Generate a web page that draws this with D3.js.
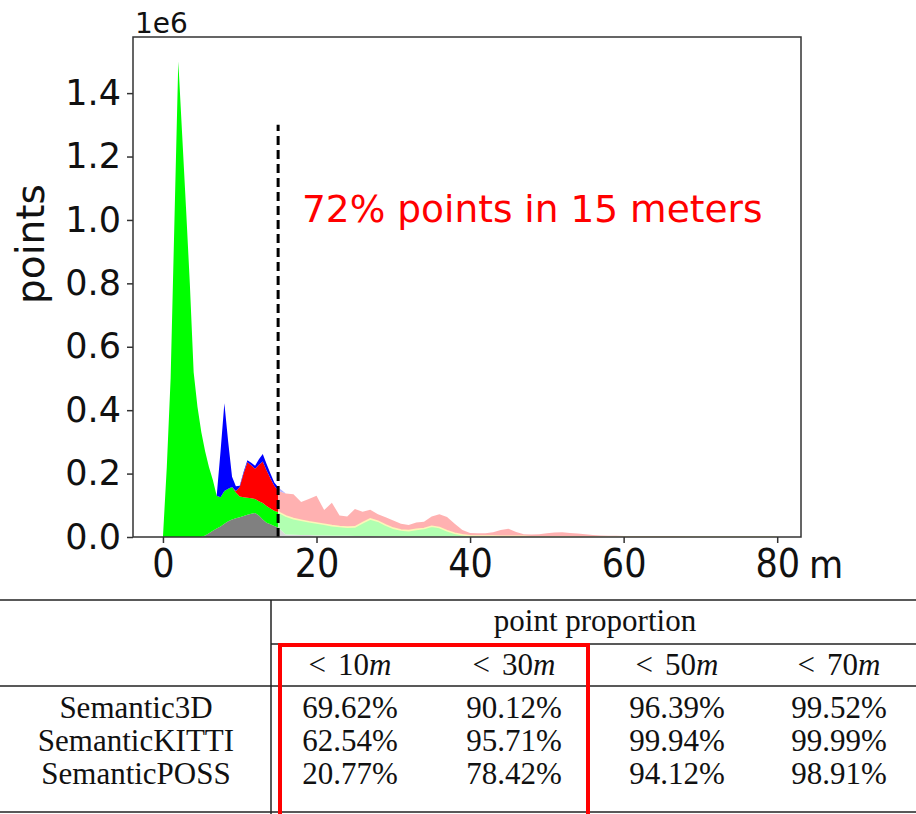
<!DOCTYPE html>
<html>
<head>
<meta charset="utf-8">
<script src="https://cdn.jsdelivr.net/npm/d3@7"></script>
<style>
  body { margin: 0; background: #fff; }
  svg { display: block; }
</style>
</head>
<body>
<svg id="chart"></svg>
<script>
// distance bins (m): 0.5 m steps up to 15 m, then 1 m steps
var distance = [0,0.5,1,1.5,2,2.5,3,3.5,4,4.5,5,5.5,6,6.5,7,7.5,8,8.5,9,9.5,10,10.5,11,11.5,12,12.5,13,13.5,14,14.5,15,
  16,17,18,19,20,21,22,23,24,25,26,27,28,29,30,31,32,33,34,35,36,37,38,39,40,41,42,43,44,45,46,47,48,49,50,
  51,52,53,54,55,56,57,58,59,60,61,62,63,64,65,66,67,68,69,70,71,72,73,74,75,76,77,78,79,80];

// layer values, in 1e6 points
var grayPts = [0,0,0,0,0,0,0,0,0,0,0,.005,.012,.02,.027,.033,.042,.05,.055,.059,.062,.066,.07,.073,.076,.068,.055,.045,.04,.035,.03,
  .008,.007,.006,.006,.005,.005,.004,.004,.004,.003,.003,.003,.002,.002,.002,
  .001,.001,.001,.001,.001,.001,.001,.001,.001,
  0,0,0,0,0,0,0,0,0,0,0,0,0,0,0,0,0,0,0,0,0,0,0,0,0,0,0,0,0,0,0,0,0,0,0,0,0,0,0,0,0];
var greenPts = [0,.22,.5,1.0,1.5,1.27,1.04,.8,.52,.41,.33,.265,.208,.16,.103,.092,.103,.102,.103,.081,.066,.059,.054,.049,.044,.045,.052,.053,.05,.048,.049,
  .058,.051,.047,.042,.039,.035,.032,.029,.027,.029,.042,.054,.048,.036,.026,
  .021,.019,.023,.026,.033,.029,.019,.011,.006,
  .004,.003,.003,.003,.002,.002,.002,.002,.001,.001,.001,.001,.001,.001,
  0,0,0,0,0,0,0,0,0,0,0,0,0,0,0,0,0,0,0,0,0,0,0,0,0,0,0];
var redPts = [0,0,0,0,0,0,0,0,0,0,0,0,0,0,0,0,0,0,0,.005,.03,.075,.112,.104,.095,.115,.131,.112,.095,.079,.067,
  .071,.077,.057,.072,.086,.045,.072,.035,.034,.056,.035,.029,.022,.024,.024,
  .02,.018,.022,.021,.031,.042,.043,.03,.015,
  .009,.009,.009,.012,.02,.024,.014,.007,.007,.008,.011,.013,.014,.012,
  .011,.009,.006,.005,.004,.004,.003,.003,.003,.003,.003,.003,.003,.002,.001,
  0,0,0,0,0,0,0,0,0,0,0,0];
var bluePts = [0,0,0,0,0,0,0,0,0,0,0,0,0,0,0,.145,.277,.148,.032,.015,.004,.005,.006,.008,.01,.017,.024,.02,.015,.01,.011,
  0,0,0,0,0,0,0,0,0,0,0,0,0,0,0,0,0,0,0,0,0,0,0,0,0,0,0,0,0,0,0,0,0,0,0,
  0,0,0,0,0,0,0,0,0,0,0,0,0,0,0,0,0,0,0,0,0,0,0,0,0,0,0,0,0,0];

var layerKeys = ["gray", "green", "red", "blue"];
var layerColors = {gray: "#808080", green: "#00ff00", red: "#ff0000", blue: "#0000ff"};

var xTicks = [0, 20, 40, 60, 80];
var yTicks = [0, 0.2, 0.4, 0.6, 0.8, 1.0, 1.2, 1.4];
var cutoff = 15;
var note = "72% points in 15 meters";

// table
var headerTitle = "point proportion";
var ranges = ["10", "30", "50", "70"];
var datasets = ["Semantic3D", "SemanticKITTI", "SemanticPOSS"];
var proportions = [
  ["69.62%", "90.12%", "96.39%", "99.52%"],
  ["62.54%", "95.71%", "99.94%", "99.99%"],
  ["20.77%", "78.42%", "94.12%", "98.91%"]
];

var W = 916, H = 814;
var svg = d3.select("#chart").attr("width", W).attr("height", H);

var plot = {left: 133, right: 801, top: 37, bottom: 537};

var x = d3.scaleLinear().domain([-3.9, 83.1]).range([plot.left, plot.right]);
var y = d3.scaleLinear().domain([0, 1.577]).range([plot.bottom, plot.top]);

var rows = distance.map(function(d, i) {
  return {m: d, gray: grayPts[i], green: greenPts[i], red: redPts[i], blue: bluePts[i]};
});
var stacked = d3.stack().keys(layerKeys)(rows);

var area = d3.area()
  .x(function(d) { return x(d.data.m); })
  .y0(function(d) { return y(d[0]); })
  .y1(function(d) { return y(d[1]); });

var defs = svg.append("defs");
defs.append("clipPath").attr("id", "near")
  .append("rect")
  .attr("x", plot.left).attr("y", plot.top)
  .attr("width", x(cutoff) - plot.left).attr("height", plot.bottom - plot.top);
defs.append("clipPath").attr("id", "far")
  .append("rect")
  .attr("x", x(cutoff)).attr("y", plot.top)
  .attr("width", plot.right - x(cutoff)).attr("height", plot.bottom - plot.top);

var near = svg.append("g").attr("clip-path", "url(#near)");
near.selectAll("path")
  .data(stacked)
  .enter()
  .append("path")
    .attr("fill", function(d) { return layerColors[d.key]; })
    .attr("d", area);

var far = svg.append("g").attr("clip-path", "url(#far)");
far.append("g").attr("opacity", 0.3)
  .selectAll("path")
  .data(stacked)
  .enter()
  .append("path")
    .attr("fill", function(d) { return layerColors[d.key]; })
    .attr("d", area);

// thin pale line on the faded green top
far.append("path")
  .datum(stacked[1])
  .attr("fill", "none")
  .attr("stroke", "#fbf7b8")
  .attr("stroke-width", 1.6)
  .attr("d", d3.line()
    .x(function(d) { return x(d.data.m); })
    .y(function(d) { return y(d[1]); }));

// 15 m marker
svg.append("line")
  .attr("x1", x(cutoff)).attr("x2", x(cutoff))
  .attr("y1", y(0)).attr("y2", y(1.3))
  .attr("stroke", "#000")
  .attr("stroke-width", 3)
  .attr("stroke-dasharray", "9,5");

svg.append("text")
  .attr("x", 302)
  .attr("y", 222)
  .attr("fill", "#ff0000")
  .attr("font-family", "DejaVu Sans")
  .attr("font-size", 37.5)
  .text(note);

// axes
var yAxis = svg.append("g")
  .attr("transform", "translate(" + plot.left + ",0)")
  .call(d3.axisLeft(y).tickValues(yTicks).tickFormat(d3.format(".1f")).tickSize(6).tickPadding(6));
var xAxis = svg.append("g")
  .attr("transform", "translate(0," + plot.bottom + ")")
  .call(d3.axisBottom(x).tickValues(xTicks).tickSize(6).tickPadding(6));

[xAxis, yAxis].forEach(function(a) {
  a.select(".domain").remove();
  a.selectAll(".tick line").attr("stroke", "#333").attr("stroke-width", 1.5);
  a.selectAll(".tick text")
    .attr("fill", "#111")
    .attr("font-family", "DejaVu Sans");
});
yAxis.selectAll(".tick text").attr("font-size", 35);
xAxis.selectAll(".tick text")
  .attr("font-family", "'DejaVu Sans Condensed', 'DejaVu Sans'")
  .attr("font-size", 39);

svg.append("rect")
  .attr("x", plot.left).attr("y", plot.top)
  .attr("width", plot.right - plot.left).attr("height", plot.bottom - plot.top)
  .attr("fill", "none")
  .attr("stroke", "#333")
  .attr("stroke-width", 1.5);

svg.append("text")
  .attr("x", plot.left + 2).attr("y", 33)
  .attr("font-family", "DejaVu Sans")
  .attr("font-size", 28)
  .attr("fill", "#111")
  .text("1e6");

svg.append("text")
  .attr("transform", "translate(44," + ((plot.top + plot.bottom) / 2 - 43) + ") rotate(-90)")
  .attr("text-anchor", "middle")
  .attr("font-family", "DejaVu Sans")
  .attr("font-size", 39)
  .attr("fill", "#111")
  .text("points");

svg.append("text")
  .attr("x", 809).attr("y", 578)
  .attr("font-family", "'DejaVu Sans Condensed', 'DejaVu Sans'")
  .attr("font-size", 39)
  .attr("fill", "#111")
  .text("m");

// table
var tbl = svg.append("g")
  .attr("font-family", "'Liberation Serif', 'Times New Roman', serif")
  .attr("font-size", 31)
  .attr("fill", "#111");
var colX = [350, 514, 677, 839];
var rowY = [718, 751, 784];
var rule = function(x1, x2, yy) {
  svg.append("line").attr("x1", x1).attr("x2", x2).attr("y1", yy).attr("y2", yy)
    .attr("stroke", "#222").attr("stroke-width", 1.5);
};
rule(0, W, 600);
rule(271, W, 644);
rule(0, W, 686);
rule(0, W, 812);
svg.append("line").attr("x1", 271).attr("x2", 271).attr("y1", 600).attr("y2", H)
  .attr("stroke", "#222").attr("stroke-width", 1.5);

tbl.append("text").attr("x", 595).attr("y", 631).attr("text-anchor", "middle").text(headerTitle);

ranges.forEach(function(r, j) {
  var t = tbl.append("text").attr("x", colX[j]).attr("y", 675).attr("text-anchor", "middle");
  t.append("tspan").text("<");
  t.append("tspan").attr("dx", 12).text(r);
  t.append("tspan").attr("font-style", "italic").text("m");
});

datasets.forEach(function(name, i) {
  tbl.append("text").attr("x", 136).attr("y", rowY[i]).attr("text-anchor", "middle").text(name);
  proportions[i].forEach(function(v, j) {
    tbl.append("text").attr("x", colX[j]).attr("y", rowY[i]).attr("text-anchor", "middle").text(v);
  });
});

svg.append("rect")
  .attr("x", 280).attr("y", 645)
  .attr("width", 308).attr("height", 180)
  .attr("fill", "none")
  .attr("stroke", "#ff0000")
  .attr("stroke-width", 4);
</script>
</body>
</html>
